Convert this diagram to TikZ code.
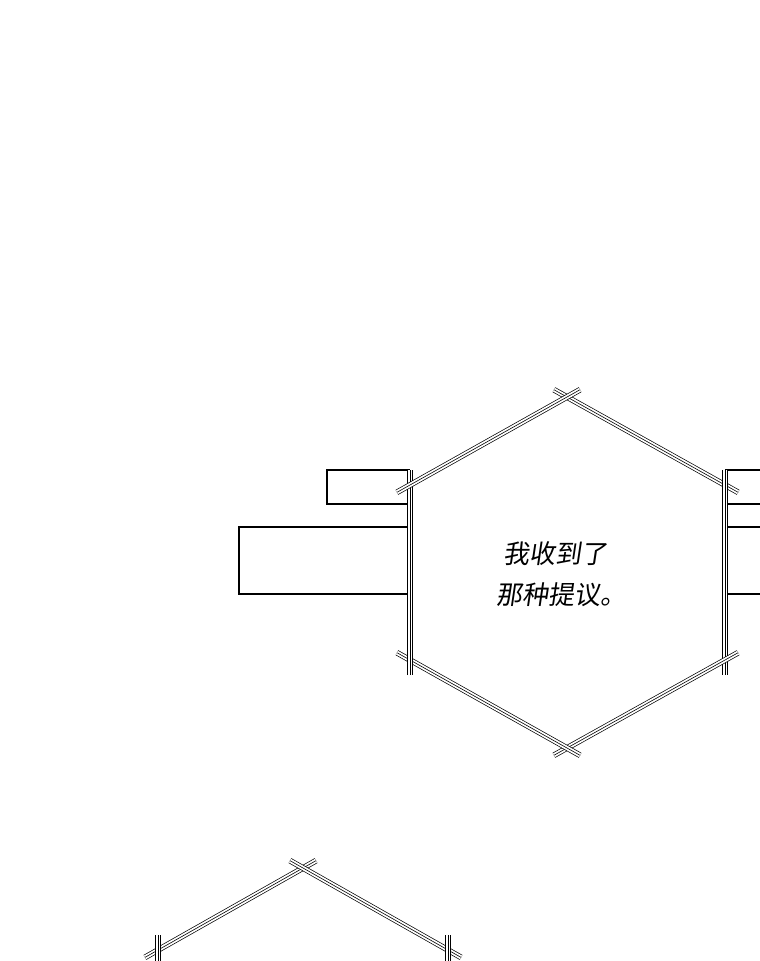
\documentclass[tikz,border=0pt]{standalone}
\usepackage{fontspec}
\newfontfamily\cjk{Noto Sans CJK SC}
\begin{document}
\begin{tikzpicture}[x=1pt,y=-1pt,
  tri/.style={double=white,double distance=4.2pt,line width=0.7pt,shorten <=-15pt,shorten >=-15pt},
  mid/.style={line width=0.6pt,shorten <=-15pt,shorten >=-15pt},
  bar/.style={line width=2.6pt}]
\useasboundingbox[fill=white] (0,0) rectangle (760,961);
% panels
\draw[bar] (410,470) -| (327,504) -- (410,504);
\draw[bar] (410,527) -| (239,594) -- (410,594);
\draw[bar] (760,470) -- (725,470);
\draw[bar] (760,504) -- (725,504);
\draw[bar] (760,527) -- (725,527);
\draw[bar] (760,594) -- (725,594);
% hexagon
\coordinate (T) at (567,397);
\coordinate (UL) at (410,485);
\coordinate (LL) at (410,660);
\coordinate (B) at (567,748);
\coordinate (LR) at (725,660);
\coordinate (UR) at (725,485);
\fill[white] (T)--(UR)--(LR)--(B)--(LL)--(UL)--cycle;
\foreach \a/\b in {T/UR,UR/LR,LR/B,B/LL,LL/UL,UL/T}{
  \draw[tri] (\a) -- (\b);
  \draw[mid] (\a) -- (\b);
}
\node[font=\cjk\fontsize{26}{41}\selectfont,align=left,anchor=west,xslant=0.15] (txt) at (498,574) {我收到了\\那种提议。};
% bottom hexagon
\coordinate (T2) at (303,868);
\coordinate (L2) at (158,950);
\coordinate (R2) at (448,950);
\coordinate (L3) at (158,1040);
\coordinate (R3) at (448,1040);
\foreach \a/\b in {T2/L2,T2/R2,L2/L3,R2/R3}{
  \draw[tri] (\a) -- (\b);
  \draw[mid] (\a) -- (\b);
}
\end{tikzpicture}
\end{document}
